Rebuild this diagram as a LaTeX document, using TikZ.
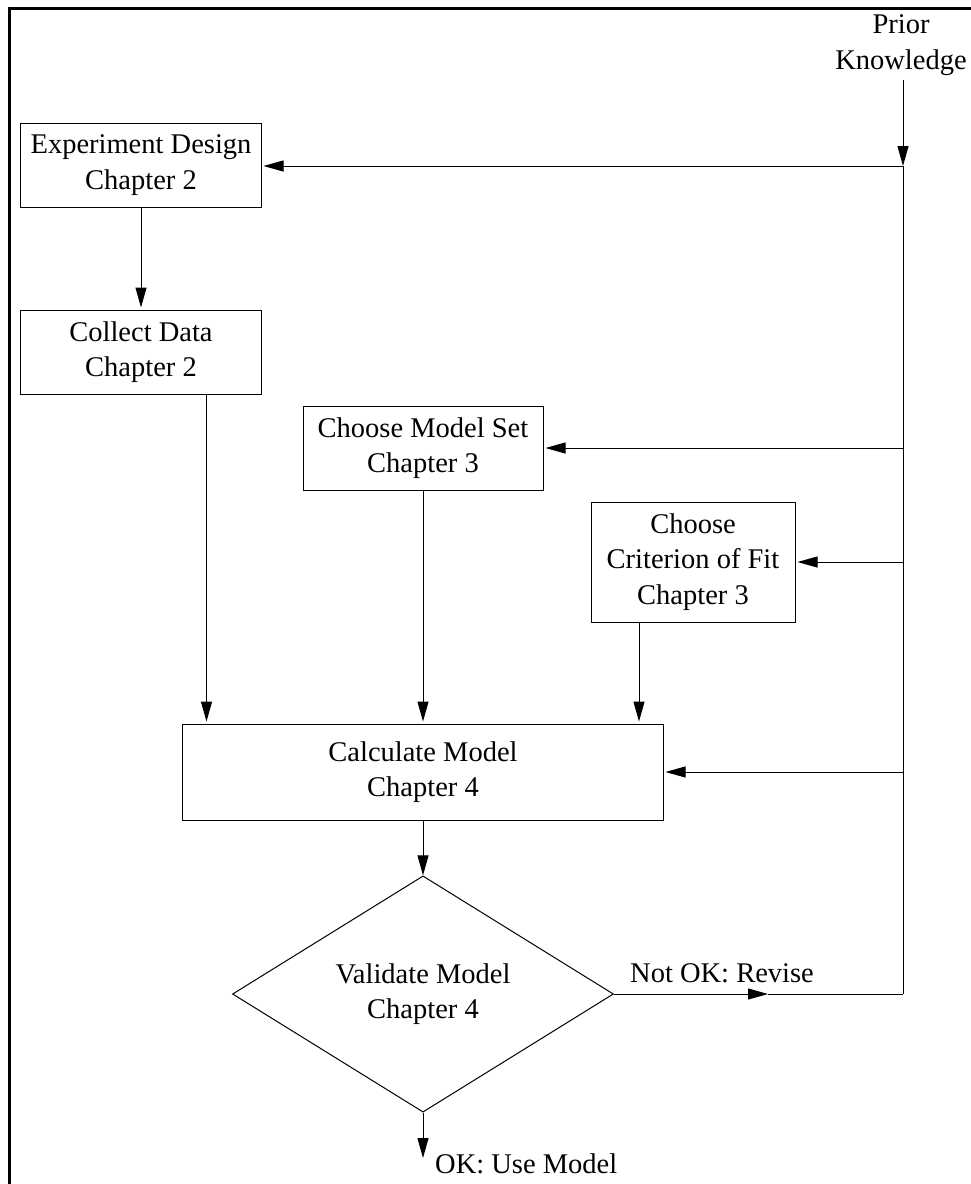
\documentclass[tikz,border=0pt]{standalone}
\usepackage{fontspec}
\setmainfont{Liberation Serif}
\usetikzlibrary{arrows.meta,shapes.geometric}
\begin{document}
\begin{tikzpicture}[x=1bp,y=-1bp,
  lbl/.style={font=\fontsize{28.5bp}{35.5bp}\selectfont, align=center},
  box/.style={lbl, draw, line width=1bp, rectangle, inner sep=0pt},
  flow/.style={line width=1bp, -{Triangle[length=20bp,width=11bp]}},
  gap/.style={shorten >=2bp},
  link/.style={line width=1bp}]

\useasboundingbox (0,0) rectangle (971,1184);
% frame along the top and left
\draw[line width=3bp] (9,1184) -- (9,8) -- (971,8);

% process steps
\node[box, minimum width=240bp, minimum height=84bp] (exp) at (141,165) {Experiment Design\\Chapter 2};
\node[box, minimum width=240bp, minimum height=84bp] (col) at (141,352) {Collect Data\\Chapter 2};
\node[box, minimum width=240bp, minimum height=84bp] (mset) at (423,448) {Choose Model Set\\Chapter 3};
\node[box, minimum width=204bp, minimum height=120bp] (crit) at (693,562) {Choose\\Criterion of Fit\\Chapter 3};
\node[box, minimum width=480bp, minimum height=96bp] (calc) at (423,772) {Calculate Model\\Chapter 4};
\node[lbl, draw, line width=1bp, diamond, inner sep=0pt, minimum width=381bp, minimum height=143bp] (valid) at (423,994) {Validate Model\\Chapter 4};

% labels
\node[lbl, inner sep=5bp] (prior) at (901,45) {Prior\\Knowledge};
\node[lbl, anchor=base west, inner sep=0pt] (notok) at (630,982) {Not OK: Revise};
\node[lbl, anchor=base west, inner sep=0pt] (okuse) at (435,1173) {OK: Use Model};

% feedback trunk
\coordinate (jtop) at (903,166);
\coordinate (jbot) at (903,994);
\coordinate (nmid) at (768,994);
\coordinate (okend) at (423,1158);

\draw[flow] (prior.south -| jtop) -- (jtop);
\draw[link] (jtop) -- (jbot);
\draw[flow,gap] (jtop) -- (jtop -| exp.east);
\draw[flow,gap] (jtop |- mset.east) -- (mset.east);
\draw[flow,gap] (jtop |- crit.east) -- (crit.east);
\draw[flow,gap] (jtop |- calc.east) -- (calc.east);

% main flow
\draw[flow,gap] (exp.south) -- (col.north);
\draw[flow,gap] ([xshift=-55bp]col.south east) -- ([xshift=-55bp]col.south east |- calc.north);
\draw[flow,gap] (mset.south) -- (calc.north);
\draw[flow,gap] ([xshift=-54bp]crit.south) -- ([xshift=-54bp]crit.south |- calc.north);
\draw[flow] (calc.south) -- (valid.north);
\draw[flow] (valid.south) -- (okend);
\draw[flow] (valid.east) -- (nmid);
\draw[link] (nmid) -- (jbot);
\end{tikzpicture}
\end{document}
